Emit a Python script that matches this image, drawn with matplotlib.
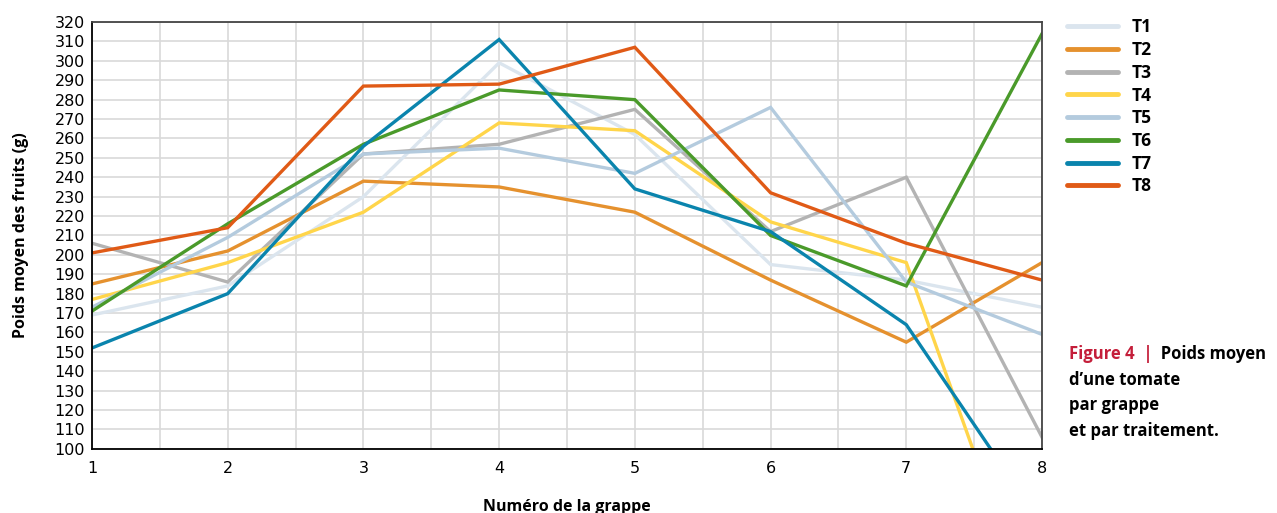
import matplotlib
matplotlib.use("Agg")
import matplotlib.pyplot as plt
from matplotlib.ticker import MultipleLocator

# numéro de grappe
grappes = [1, 2, 3, 4, 5, 6, 7, 8]

# poids moyen (g) par traitement
t1 = [169, 184, 230, 299, 262, 195, 187, 173]
t2 = [185, 202, 238, 235, 222, 187, 155, 196]
t3 = [206, 186, 252, 257, 275, 212, 240, 106]
t4 = [177, 196, 222, 268, 264, 217, 196, 0]
t5 = [173, 209, 252, 255, 242, 276, 186, 159]
t6 = [171, 216, 257, 285, 280, 210, 184, 314]
t7 = [152, 180, 256, 311, 234, 212, 164, 61]
t8 = [201, 214, 287, 288, 307, 232, 206, 187]

series_names = ["T1", "T2", "T3", "T4", "T5", "T6", "T7", "T8"]
series_values = [t1, t2, t3, t4, t5, t6, t7, t8]
colors = ["#dbe5ee", "#e5912e", "#b3b3b3", "#ffd54a",
          "#b4cbde", "#4a9a2a", "#0a84ad", "#e05a16"]

tick_font = ["Liberation Sans Narrow", "DejaVu Sans"]
label_font = ["Open Sans", "DejaVu Sans"]

fig = plt.figure(figsize=(12.77, 5.13), dpi=100)
ax = fig.add_axes([0.072, 0.125, 0.744, 0.832])

for name, values, color in zip(series_names, series_values, colors):
    ax.plot(grappes, values, color=color, linewidth=2.4, label=name,
            solid_joinstyle="miter")

ax.set_xlim(1, 8)
ax.set_ylim(100, 320)
ax.xaxis.set_major_locator(MultipleLocator(1))
ax.xaxis.set_minor_locator(MultipleLocator(0.5))
ax.yaxis.set_major_locator(MultipleLocator(10))
ax.grid(which="both", color="#d9d9d9", linewidth=1.2)
ax.set_axisbelow(True)
ax.tick_params(which="both", length=0)
ax.tick_params(axis="x", pad=9)
ax.tick_params(axis="y", pad=5)
for lbl in ax.get_xticklabels() + ax.get_yticklabels():
    lbl.set_fontfamily(tick_font)
    lbl.set_fontsize(11.5)

for side in ["left", "bottom"]:
    ax.spines[side].set_color("black")
    ax.spines[side].set_linewidth(1.3)
for side in ["top", "right"]:
    ax.spines[side].set_color("#444444")
    ax.spines[side].set_linewidth(1.3)

ax.set_xlabel("Numéro de la grappe", family=label_font, fontweight="bold",
              fontsize=11.5, labelpad=16)
ax.set_ylabel("Poids moyen des fruits (g)", family=label_font,
              fontweight="bold", fontsize=11.5, labelpad=18)

leg = ax.legend(loc="upper left", bbox_to_anchor=(1.01, 1.045), frameon=False,
                prop={"family": label_font, "weight": "bold", "size": 12.5},
                handlelength=2.9, handletextpad=0.8, labelspacing=0.27)
for line in leg.get_lines():
    line.set_linewidth(3.5)
    line.set_solid_capstyle("round")

# légende de la figure
fs = 12
t_fig = fig.text(0.837, 0.300, "Figure 4  |", color="#c41e3a",
                 family=label_font, fontweight="bold", fontsize=fs)
ax.annotate("  Poids moyen", xy=(1, 0), xycoords=t_fig, color="black",
            family=label_font, fontweight="bold", fontsize=fs,
            va="bottom", annotation_clip=False)
caption = ["d’une tomate", "par grappe", "et par traitement."]
for i, line in enumerate(caption):
    fig.text(0.837, 0.250 - i * 0.05, line, color="black", family=label_font,
             fontweight="bold", fontsize=fs)

fig.savefig("out.png", dpi=100)
